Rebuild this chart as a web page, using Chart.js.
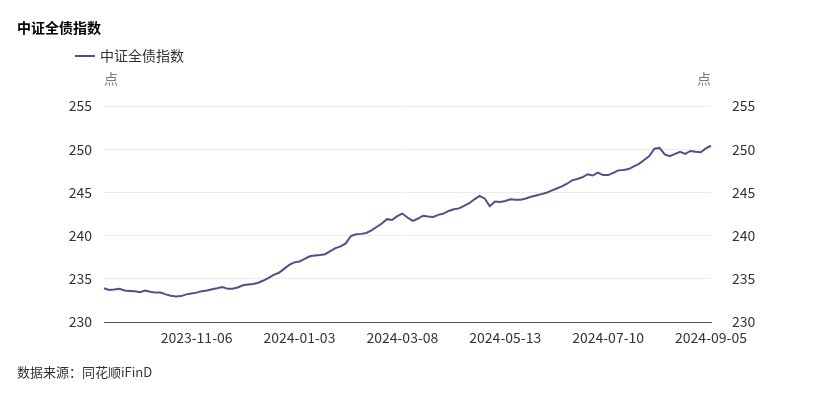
<!DOCTYPE html>
<html>
<head>
<meta charset="utf-8">
<script src="https://cdn.jsdelivr.net/npm/chart.js@4.4.1/dist/chart.umd.min.js"></script>
<style>
  body { margin: 0; background: #fff; }
  #wrap { position: relative; width: 817px; height: 399px; font-family: "Noto Sans CJK SC", "Noto Sans", sans-serif; }
  #myChart { position: absolute; left: 0; top: 0; }
  .txt { position: absolute; white-space: nowrap; line-height: 18px; }
  #title { left: 17px; top: 18px; font-size: 14px; font-weight: bold; color: #000; }
  #legend { left: 75px; top: 46px; font-size: 14px; color: #333; }
  #legend span { display: inline-block; width: 20px; height: 2px; background: #4b5389; vertical-align: middle; margin-right: 5px; position: relative; top: -1px; }
  .unit { top: 69px; font-size: 14px; color: #777; }
  #source { left: 17px; top: 363px; font-size: 13px; color: #333; }
</style>
</head>
<body>
<div id="wrap">
  <canvas id="myChart" width="817" height="399"></canvas>
  <div class="txt" id="title">中证全债指数</div>
  <div class="txt" id="legend"><span></span>中证全债指数</div>
  <div class="txt unit" style="left:104px">点</div>
  <div class="txt unit" style="left:697px">点</div>
  <div class="txt" id="source">数据来源：同花顺iFinD</div>
</div>
<script>
// index values, roughly every 2 trading days
var values = [
  233.9, 233.7, 233.75, 233.85, 233.65, 233.6, 233.55, 233.45, 233.65, 233.5,
  233.4, 233.4, 233.2, 233.05, 232.95, 233.0, 233.2, 233.3, 233.4, 233.55,
  233.65, 233.8, 233.9, 234.05, 233.85, 233.85, 234.0, 234.25, 234.35, 234.4,
  234.55, 234.8, 235.1, 235.45, 235.7, 236.15, 236.6, 236.9, 237.0, 237.3,
  237.6, 237.7, 237.75, 237.85, 238.2, 238.55, 238.75, 239.1, 239.95, 240.15,
  240.2, 240.3, 240.6, 241.0, 241.4, 241.9, 241.8, 242.25, 242.55, 242.1,
  241.7, 241.95, 242.3, 242.2, 242.15, 242.4, 242.55, 242.85, 243.05, 243.15,
  243.45, 243.75, 244.2, 244.6, 244.3, 243.4, 243.95, 243.9, 244.0, 244.2,
  244.15, 244.15, 244.3, 244.5, 244.65, 244.8, 244.95, 245.2, 245.45, 245.7,
  246.0, 246.4, 246.55, 246.75, 247.1, 246.95, 247.3, 247.0, 247.0, 247.25,
  247.55, 247.6, 247.7, 248.0, 248.3, 248.75, 249.2, 250.05, 250.15, 249.4,
  249.2, 249.45, 249.7, 249.45, 249.8, 249.7, 249.65, 250.1, 250.4
];
var tickLabels = ['2023-11-06', '2024-01-03', '2024-03-08', '2024-05-13', '2024-07-10', '2024-09-05'];
var tickIndex = [18, 38, 58, 78, 98, 118];
var yTicks = [230, 235, 240, 245, 250, 255];

var labels = values.map(function (v, i) {
  var k = tickIndex.indexOf(i);
  return k >= 0 ? tickLabels[k] : '';
});

var tickFont = { family: '"Noto Sans CJK SC", "Noto Sans", sans-serif', size: 14 };

var ctx = document.getElementById('myChart').getContext('2d');
var chart = new Chart(ctx, {
  type: 'line',
  data: {
    labels: labels,
    datasets: [{
      label: '中证全债指数',
      data: values,
      borderColor: '#4b5389',
      backgroundColor: '#4b5389',
      borderWidth: 2,
      pointRadius: 0,
      tension: 0,
      yAxisID: 'y'
    }]
  },
  options: {
    responsive: false,
    animation: false,
    layout: { padding: { top: 106, bottom: 47, left: 0, right: 0 } },
    plugins: { legend: { display: false }, tooltip: { enabled: false } },
    scales: {
      x: {
        grid: { display: false, drawTicks: false },
        border: { display: true, color: '#555', width: 1 },
        ticks: {
          autoSkip: false, maxRotation: 0, minRotation: 0,
          padding: 7, color: '#333', font: tickFont,
          callback: function (val, i) { return labels[i]; }
        },
        afterFit: function (s) { s.height = 30; }
      },
      y: {
        position: 'left', min: yTicks[0], max: yTicks[yTicks.length - 1],
        grid: { color: '#ececec', drawTicks: false },
        border: { display: false },
        ticks: { stepSize: 5, padding: 12, color: '#333', font: tickFont },
        afterFit: function (s) { s.width = 104; }
      },
      y2: {
        position: 'right', min: yTicks[0], max: yTicks[yTicks.length - 1],
        grid: { display: false },
        border: { display: false },
        ticks: { stepSize: 5, padding: 13, color: '#333', font: tickFont },
        afterFit: function (s) { s.width = 106; }
      }
    }
  }
});
</script>
</body>
</html>
